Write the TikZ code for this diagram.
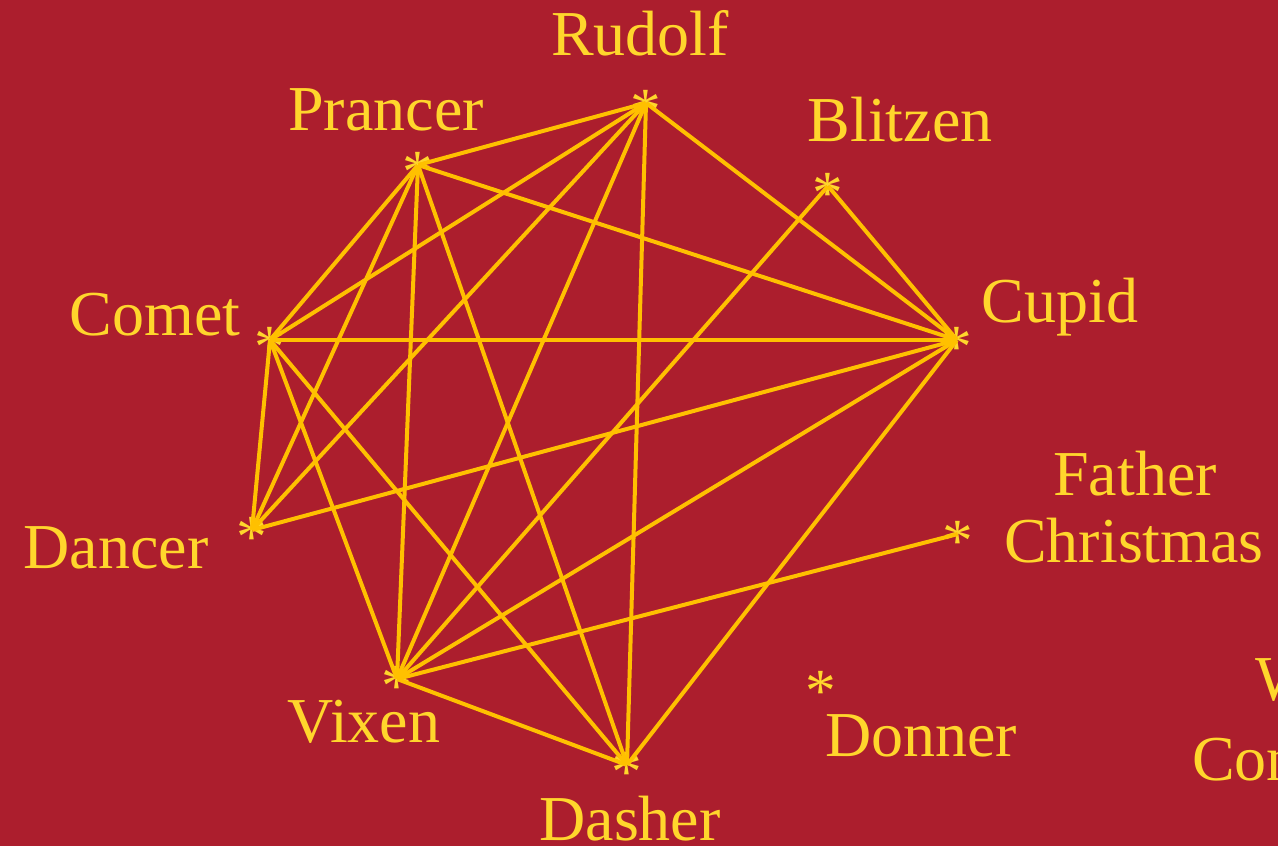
\documentclass[tikz,border=0pt]{standalone}
\usepackage{fontspec}
\setmainfont{Liberation Serif}
\definecolor{sleigh}{RGB}{172,30,45}
\definecolor{rein}{RGB}{255,192,0}
\definecolor{tinsel}{RGB}{255,214,44}

\begin{document}
\begin{tikzpicture}[
  x=0.75pt, y=-0.75pt,
  font=\fontsize{48}{50}\selectfont,
  deer/.style={inner sep=0pt, minimum size=0pt, label={[ast]center:*}},
  ast/.style={inner sep=0pt, text=tinsel, yshift=-5.5pt, font=\fontsize{46}{48}\selectfont},
  lab/.style={text=tinsel, inner sep=0pt, anchor=base},
  link/.style={draw=rein, line width=3pt}
]
  \clip (0,0) rectangle (1278,846);
  \fill[sleigh] (0,0) rectangle (1278,846);

  \node[deer] (rudolf) at (646,103) {};
  \node[deer] (prancer) at (418,165) {};
  \node[deer] (blitzen) at (828,186) {};
  \node[deer] (comet) at (270,340) {};
  \node[deer] (cupid) at (957,340) {};
  \node[deer] (dancer) at (252,530) {};
  \node[deer] (father) at (958,534) {};
  \node[deer] (vixen) at (397,679) {};
  \node[deer] (donner) at (821,684) {};
  \node[deer] (dasher) at (627,765) {};

  \foreach \a/\b in {rudolf/prancer, rudolf/comet, rudolf/dancer, rudolf/vixen,
      rudolf/dasher, rudolf/cupid, prancer/comet, prancer/dancer, prancer/vixen,
      prancer/dasher, prancer/cupid, blitzen/cupid, blitzen/vixen, comet/cupid,
      comet/dancer, comet/vixen, comet/dasher, cupid/dancer, cupid/vixen,
      cupid/dasher, vixen/father, vixen/dasher} {
    \draw[link] (\a) -- (\b);
  }

  \node[lab] (rudolf-lab) at (640,55) {Rudolf};
  \node[lab] (prancer-lab) at (386,130) {Prancer};
  \node[lab] (blitzen-lab) at (900,141) {Blitzen};
  \node[lab] (comet-lab) at (155,335) {Comet};
  \node[lab] (cupid-lab) at (1060,322) {Cupid};
  \node[lab] (dancer-lab) at (116,568) {Dancer};
  \node[lab] (father-lab) at (1135,495) {Father};
  \node[lab] (christmas-lab) at (1134,562) {Christmas};
  \node[lab] (vixen-lab) at (364,742) {Vixen};
  \node[lab] (donner-lab) at (921,756) {Donner};
  \node[lab] (dasher-lab) at (630,840) {Dasher};
  \node[lab, anchor=base west] (w-lab) at (1255,700) {W};
  \node[lab, anchor=base west] (con-lab) at (1192,780) {Con};
\end{tikzpicture}
\end{document}
